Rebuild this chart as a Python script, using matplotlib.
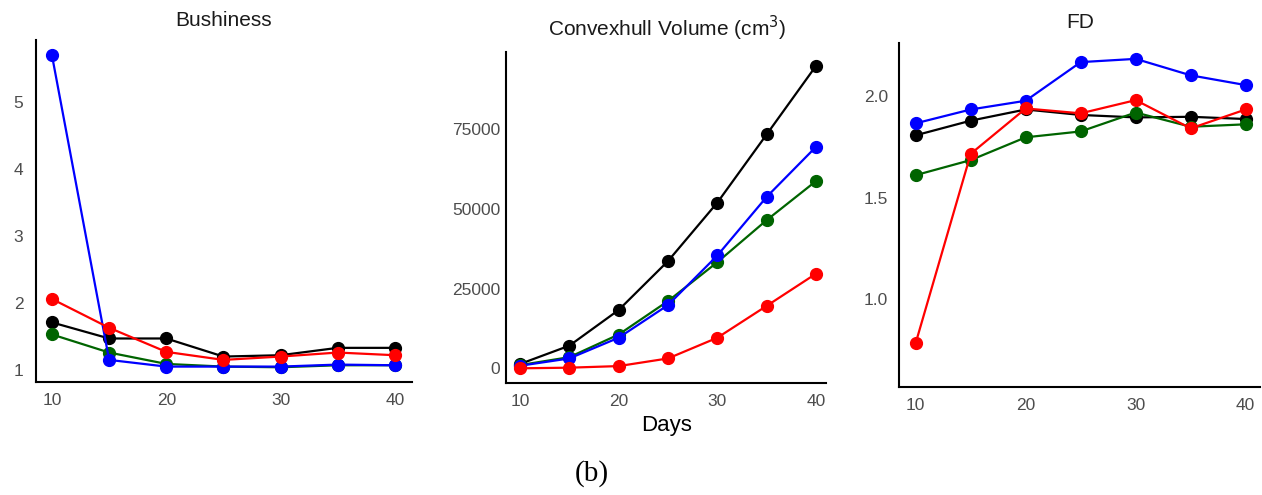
import matplotlib.pyplot as plt

plt.rcParams['font.family'] = ['Liberation Sans', 'DejaVu Sans']

days = [10, 15, 20, 25, 30, 35, 40]

# Bushiness
bush_black = [1.71, 1.47, 1.47, 1.20, 1.22, 1.33, 1.33]
bush_green = [1.53, 1.26, 1.09, 1.05, 1.04, 1.07, 1.07]
bush_blue = [5.70, 1.15, 1.05, 1.05, 1.05, 1.08, 1.07]
bush_red = [2.06, 1.63, 1.27, 1.15, 1.20, 1.26, 1.22]

# Convexhull volume
vol_black = [1350, 7100, 18300, 33650, 52000, 73400, 94900]
vol_green = [1000, 3500, 10600, 21100, 33300, 46500, 58750]
vol_blue = [800, 3100, 9600, 19850, 35400, 53800, 69500]
vol_red = [0, 200, 700, 3100, 9600, 19600, 29700]

# FD
fd_black = [1.807, 1.879, 1.934, 1.907, 1.895, 1.898, 1.887]
fd_green = [1.611, 1.685, 1.797, 1.826, 1.919, 1.849, 1.861]
fd_blue = [1.866, 1.934, 1.977, 2.167, 2.183, 2.102, 2.054]
fd_red = [0.786, 1.716, 1.939, 1.915, 1.980, 1.841, 1.934]

colors = ['black', '#006400', '#0000FF', '#FF0000']

fig = plt.figure(figsize=(12.62, 4.95), dpi=100)

panels = [
    ([0.0285, 0.2283, 0.298, 0.691], [bush_black, bush_green, bush_blue, bush_red],
     (8.6, 41.5), (0.82, 5.93), [1, 2, 3, 4, 5], ['1', '2', '3', '4', '5'], 9),
    ([0.4007, 0.2263, 0.2538, 0.6686], [vol_black, vol_green, vol_blue, vol_red],
     (8.55, 41.0), (-4600, 99200), [0, 25000, 50000, 75000],
     ['0', '25000', '50000', '75000'], 4),
    ([0.7124, 0.2188, 0.286, 0.6943], [fd_black, fd_green, fd_blue, fd_red],
     (8.48, 41.3), (0.57, 2.261), [1.0, 1.5, 2.0], ['1.0', '1.5', '2.0'], 8),
]

axes = []
for rect, series, xlim, ylim, yt, ytl, ypad in panels:
    ax = fig.add_axes(rect)
    for vals, c in zip(series, colors):
        ax.plot(days, vals, color=c, lw=1.6, marker='o', ms=8.5, clip_on=False)
    ax.set_xlim(*xlim)
    ax.set_ylim(*ylim)
    ax.set_xticks([10, 20, 30, 40])
    ax.set_yticks(yt)
    ax.set_yticklabels(ytl)
    ax.tick_params(axis='both', length=0, labelsize=12.5, colors='#4d4d4d')
    ax.tick_params(axis='x', pad=8)
    ax.tick_params(axis='y', pad=ypad)
    for s in ['top', 'right']:
        ax.spines[s].set_visible(False)
    for s in ['left', 'bottom']:
        ax.spines[s].set_linewidth(1.5)
    axes.append(ax)

fig.text(224 / 1262, 1 - 20 / 495, 'Bushiness', ha='center', va='center',
         fontsize=15, color='#1a1a1a')
fig.text(667 / 1262, 1 - 28 / 495, 'Convexhull Volume (cm$^3$)', ha='center',
         va='center', fontsize=15, color='#1a1a1a')
fig.text(1080 / 1262, 1 - 23 / 495, 'FD', ha='center', va='center',
         fontsize=15, color='#1a1a1a')
fig.text(667 / 1262, 1 - 425 / 495, 'Days', ha='center', va='center',
         fontsize=16, color='black')
fig.text(592 / 1262, 1 - 474 / 495, '(b)', ha='center', va='center',
         fontsize=21, family='Liberation Serif', color='black')

plt.savefig('out.png', dpi=100)
